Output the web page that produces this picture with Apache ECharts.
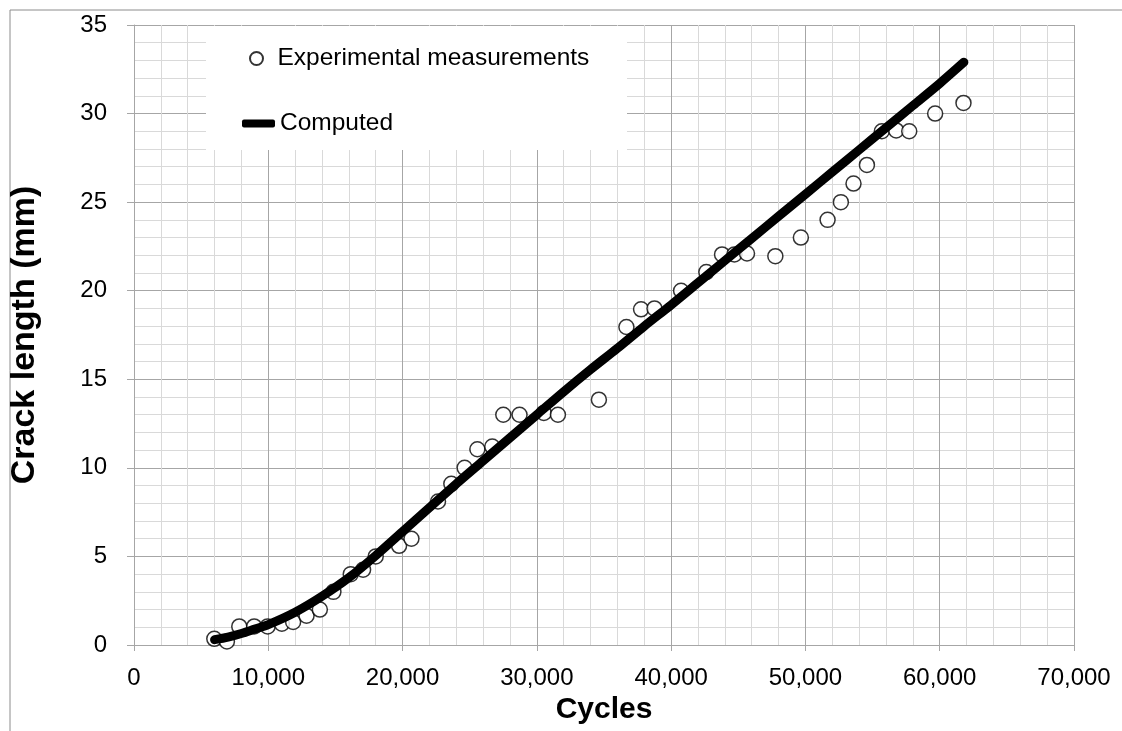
<!DOCTYPE html>
<html>
<head>
<meta charset="utf-8">
<script src="https://cdn.jsdelivr.net/npm/echarts@6/dist/echarts.min.js"></script>
<style>
  body { margin: 0; background: #ffffff; }
  #chart { width: 1122px; height: 731px; }
</style>
</head>
<body>
<div id="chart"></div>
<script>
// experimental measurements (cycles, crack length mm)
var expCycles = [5980, 6920, 7840, 8950, 9950, 11010, 11850, 12850, 13840, 14850,
  16140, 17060, 18000, 19740, 20660, 22640, 23630, 24620, 25570, 26680,
  27500, 28710, 30520, 31570, 34620, 36670, 37760, 38760, 40740, 42620,
  43790, 44710, 45650, 47760, 49660, 51650, 52640, 53580, 54580, 55690,
  56760, 57730, 59660, 61770];
var expLength = [0.35, 0.2, 1.05, 1.05, 1.05, 1.2, 1.3, 1.65, 2.0, 3.0,
  4.0, 4.25, 5.0, 5.6, 6.0, 8.1, 9.1, 10.0, 11.05, 11.2,
  13.0, 13.0, 13.1, 13.0, 13.85, 17.95, 18.95, 19.0, 20.0, 21.05,
  22.05, 22.05, 22.1, 21.95, 23.0, 24.0, 25.0, 26.05, 27.1, 29.0,
  29.05, 29.0, 30.0, 30.6];

// computed curve
var compCycles = [6000, 7000, 8000, 9000, 10000, 12000, 14000, 16000, 18000, 20000,
  22000, 24000, 26000, 28000, 30000, 32000, 34000, 36000, 38000, 40000,
  42000, 44000, 46000, 48000, 50000, 52000, 54000, 56000, 58000, 60000, 61800];
var compLength = [0.3, 0.45, 0.65, 0.9, 1.15, 1.85, 2.75, 3.8, 5.05, 6.4,
  7.75, 9.1, 10.4, 11.7, 13.0, 14.3, 15.55, 16.75, 18.0, 19.2,
  20.45, 21.7, 22.95, 24.2, 25.45, 26.7, 27.95, 29.2, 30.45, 31.7, 32.9];

var expData = expCycles.map(function (c, i) { return [c, expLength[i]]; });
var compData = compCycles.map(function (c, i) { return [c, compLength[i]]; });

var font = 'Liberation Sans, Arial, sans-serif';
var majorColor = '#a6a6a6';
var minorColor = '#d9d9d9';

var chart = echarts.init(document.getElementById('chart'));
chart.setOption({
  animation: false,
  backgroundColor: '#ffffff',
  grid: { left: 133, right: 48, top: 25, bottom: 86 },
  graphic: [
    // outer chart frame (top and left edges)
    { type: 'polyline', silent: true, z: 0,
      shape: { points: [[10, 731], [10, 10], [1122, 10]] },
      style: { stroke: '#8c8c8c', lineWidth: 1, fill: null } },
    // legend box
    { type: 'rect', silent: true, z: 5,
      shape: { x: 206, y: 26, width: 421, height: 124 },
      style: { fill: '#ffffff' } }
  ],
  legend: [
    { data: ['Experimental measurements'], left: 244, top: 41, orient: 'vertical',
      itemWidth: 32, itemHeight: 13, z: 10,
      textStyle: { fontFamily: font, fontSize: 24.5, color: '#000' } },
    { data: [{ name: 'Computed', icon: 'roundRect' }], left: 237, top: 106, orient: 'vertical',
      itemWidth: 33, itemHeight: 8, z: 10,
      itemStyle: { color: '#000', borderWidth: 0 },
      textStyle: { fontFamily: font, fontSize: 24.5, color: '#000' } }
  ],
  xAxis: {
    type: 'value', min: 0, max: 70000, interval: 10000,
    name: 'Cycles', nameLocation: 'middle', nameGap: 50,
    nameTextStyle: { fontFamily: font, fontSize: 30, fontWeight: 'bold', color: '#000' },
    axisLine: { show: true, onZero: false, lineStyle: { color: majorColor, width: 1 } },
    axisTick: { show: true, length: 6, lineStyle: { color: majorColor } },
    axisLabel: { fontFamily: font, fontSize: 24, color: '#000', margin: 21,
      formatter: function (v) { return v.toLocaleString('en-US'); } },
    splitLine: { show: true, lineStyle: { color: majorColor, width: 1 } },
    minorTick: { show: false, splitNumber: 5 },
    minorSplitLine: { show: true, lineStyle: { color: minorColor, width: 1 } }
  },
  yAxis: {
    type: 'value', min: 0, max: 35, interval: 5,
    name: 'Crack length (mm)', nameLocation: 'middle', nameGap: 92, nameRotate: 90,
    nameTextStyle: { fontFamily: font, fontSize: 34, fontWeight: 'bold', color: '#000' },
    axisLine: { show: true, lineStyle: { color: majorColor, width: 1 } },
    axisTick: { show: true, length: 7, lineStyle: { color: majorColor } },
    axisLabel: { fontFamily: font, fontSize: 24, color: '#000', margin: 27 },
    splitLine: { show: true, lineStyle: { color: majorColor, width: 1 } },
    minorTick: { show: false, splitNumber: 5 },
    minorSplitLine: { show: true, lineStyle: { color: minorColor, width: 1 } }
  },
  series: [
    {
      name: 'Experimental measurements',
      type: 'scatter',
      data: expData,
      symbol: 'circle',
      symbolSize: 15,
      z: 2,
      itemStyle: { color: '#ffffff', borderColor: '#000000', borderWidth: 1.5 }
    },
    {
      name: 'Computed',
      type: 'line',
      data: compData,
      smooth: 0.3,
      showSymbol: false,
      symbol: 'none',
      z: 3,
      itemStyle: { color: '#000000' },
      lineStyle: { color: '#000000', width: 9, cap: 'round' }
    }
  ]
});
</script>
</body>
</html>
